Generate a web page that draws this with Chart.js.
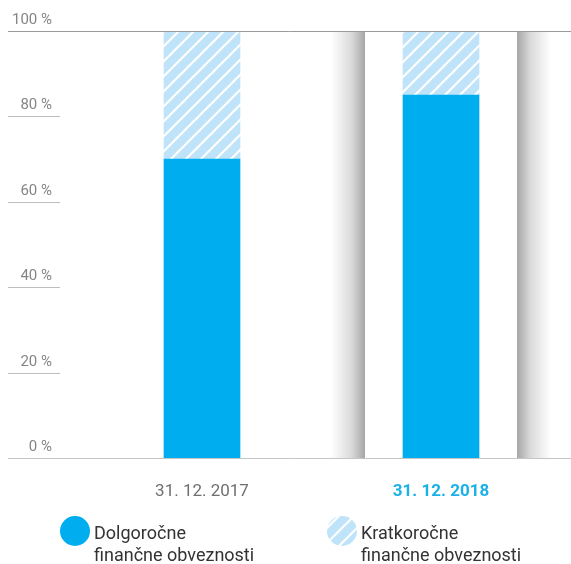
<!DOCTYPE html>
<html>
<head>
<meta charset="utf-8">
<script src="https://cdn.jsdelivr.net/npm/chart.js@4/dist/chart.umd.min.js"></script>
<style>
    html, body { margin: 0; padding: 0; background: #fff; }
    #wrap { position: relative; width: 571px; height: 564px; }
</style>
</head>
<body>
<div id="wrap"><canvas id="chart" width="571" height="564"></canvas></div>
<script>
const categories = ['31. 12. 2017', '31. 12. 2018'];
const longTerm = [70, 85];
const shortTerm = [30, 15];
const yTicks = [0, 20, 40, 60, 80, 100];
const seriesNames = [['Dolgoročne', 'finančne obveznosti'], ['Kratkoročne', 'finančne obveznosti']];
const highlightIndex = 1;

const BLUE = '#00aeef';
const LIGHT = '#bfe3f8';
const FONT = 'Roboto, "Noto Sans", sans-serif';

function hatch(size) {
    const c = document.createElement('canvas');
    c.width = c.height = size;
    const g = c.getContext('2d');
    g.fillStyle = LIGHT;
    g.fillRect(0, 0, size, size);
    g.strokeStyle = '#fff';
    g.lineWidth = 2.2;
    g.beginPath();
    g.moveTo(0, size); g.lineTo(size, 0);
    g.moveTo(-size / 2, size / 2); g.lineTo(size / 2, -size / 2);
    g.moveTo(size / 2, size * 1.5); g.lineTo(size * 1.5, size / 2);
    g.stroke();
    return g.createPattern(c, 'repeat');
}
const hatchFill = hatch(15);

const decorations = {
    id: 'decorations',
    beforeDatasetsDraw(chart) {
        const { ctx, scales: { x, y } } = chart;
        const cx = x.getPixelForValue(highlightIndex);
        const top = y.getPixelForValue(100);
        const bottom = y.getPixelForValue(0);
        const inner = 76, outer = 110;
        ctx.save();
        let g = ctx.createLinearGradient(cx - outer, 0, cx - inner, 0);
        g.addColorStop(0, 'rgba(150,150,150,0)');
        g.addColorStop(0.6, 'rgba(150,150,150,0.35)');
        g.addColorStop(1, 'rgba(150,150,150,0.85)');
        ctx.fillStyle = g;
        ctx.fillRect(cx - outer, top, outer - inner, bottom - top);
        g = ctx.createLinearGradient(cx + inner, 0, cx + outer, 0);
        g.addColorStop(0, 'rgba(150,150,150,0.85)');
        g.addColorStop(0.4, 'rgba(150,150,150,0.35)');
        g.addColorStop(1, 'rgba(150,150,150,0)');
        ctx.fillStyle = g;
        ctx.fillRect(cx + inner, top, outer - inner, bottom - top);

        // y ticks: short lines + labels on the left
        ctx.font = '15px ' + FONT;
        ctx.fillStyle = '#858585';
        ctx.textAlign = 'right';
        ctx.textBaseline = 'alphabetic';
        yTicks.forEach(function (v) {
            const py = Math.round(y.getPixelForValue(v)) + 0.5;
            ctx.fillText(v + ' %', 52, py - 8);
            if (v === 0 || v === 100) return;
            ctx.strokeStyle = '#bdbdbd';
            ctx.lineWidth = 1;
            ctx.beginPath();
            ctx.moveTo(8, py); ctx.lineTo(60, py);
            ctx.stroke();
        });
        ctx.restore();
    },
    afterDatasetsDraw(chart) {
        const { ctx, width, scales: { y } } = chart;
        ctx.save();
        const t = Math.round(y.getPixelForValue(100)) + 0.5;
        const b = Math.round(y.getPixelForValue(0)) + 0.5;
        ctx.lineWidth = 1;
        ctx.strokeStyle = '#9a9a9a';
        ctx.beginPath(); ctx.moveTo(8, t); ctx.lineTo(width, t); ctx.stroke();
        ctx.strokeStyle = '#c4c4c4';
        ctx.beginPath(); ctx.moveTo(8, b); ctx.lineTo(width, b); ctx.stroke();

        // legend
        const fills = [BLUE, hatchFill];
        const lx = [75, 342];
        ctx.font = '18px ' + FONT;
        ctx.textAlign = 'left';
        seriesNames.forEach(function (lines, i) {
            ctx.beginPath();
            ctx.arc(lx[i], 531, 15, 0, Math.PI * 2);
            ctx.fillStyle = fills[i];
            ctx.fill();
            ctx.fillStyle = '#333';
            lines.forEach(function (line, j) {
                ctx.fillText(line, lx[i] + 19, 539 + j * 22);
            });
        });
        ctx.restore();
    }
};

new Chart(document.getElementById('chart'), {
    type: 'bar',
    data: {
        labels: categories,
        datasets: [
            { label: seriesNames[0].join(' '), data: longTerm, backgroundColor: BLUE, barThickness: 76 },
            { label: seriesNames[1].join(' '), data: shortTerm, backgroundColor: hatchFill, barThickness: 76 }
        ]
    },
    options: {
        responsive: false,
        animation: false,
        layout: { padding: { left: 82.5, right: 10.5, top: 31, bottom: 0 } },
        plugins: { legend: { display: false }, tooltip: { enabled: false } },
        scales: {
            x: {
                stacked: true,
                grid: { display: false },
                border: { display: false },
                afterFit: function (scale) { scale.height = 106; },
                ticks: {
                    padding: 16,
                    color: function (c) { return c.index === highlightIndex ? '#1ab1e8' : '#6f6f6f'; },
                    font: function (c) {
                        return { family: FONT, size: 17, weight: c.index === highlightIndex ? 'bold' : 'normal' };
                    }
                }
            },
            y: {
                stacked: true,
                display: false,
                min: 0,
                max: 100
            }
        }
    },
    plugins: [decorations]
});
</script>
</body>
</html>
